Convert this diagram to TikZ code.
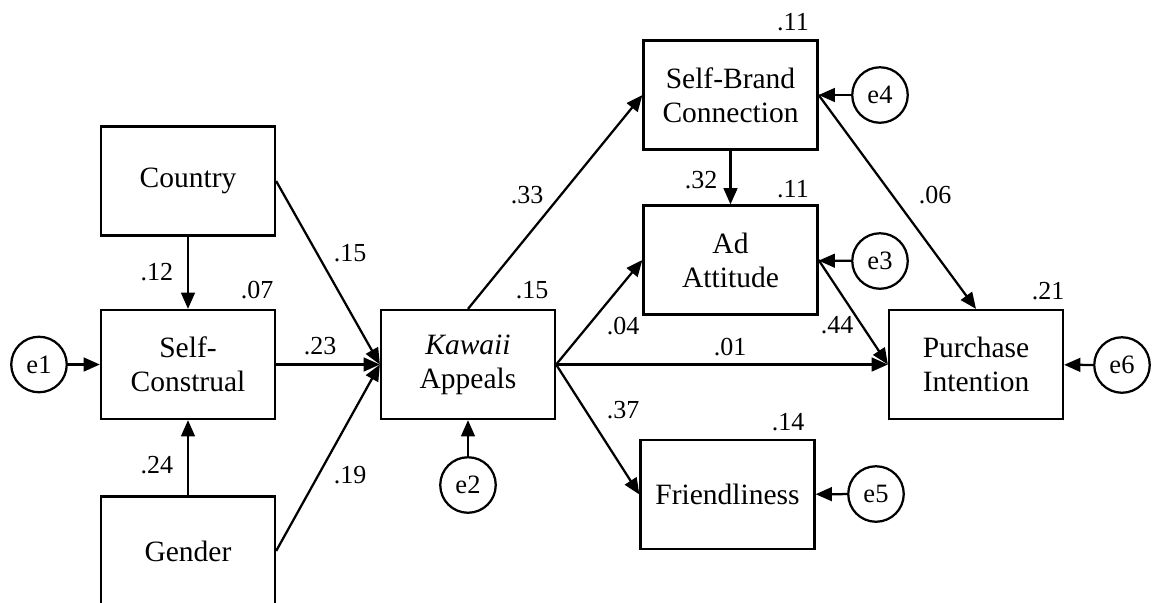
\documentclass[tikz,border=0pt]{standalone}
\usepackage{fontspec}
\setmainfont{Liberation Serif}
\usetikzlibrary{arrows.meta}

\begin{document}
\begin{tikzpicture}[x=0.4pt,y=-0.4pt,
    varbox/.style={draw,line width=0.9pt,minimum width=69.6pt,minimum height=43.6pt,inner sep=0pt,align=center,font=\fontsize{11.8}{13.6}\selectfont},
    errc/.style={draw,circle,line width=0.9pt,minimum size=22.2pt,inner sep=0pt,font=\fontsize{10.6}{12}\selectfont},
    coef/.style={inner sep=0pt,font=\fontsize{10.4}{12}\selectfont},
    conn/.style={line width=0.9pt,-{Triangle[length=6.5pt,width=5.5pt]}}]
      \useasboundingbox (0,0) rectangle (1155,602);
      \clip (0,0) rectangle (1155,602);

      \node[varbox] (country) at (188,181) {Country};
      \node[varbox] (selfc) at (188,364.5) {Self-\\Construal};
      \node[varbox] (gender) at (188,551) {Gender};
      \node[varbox] (kawaii) at (468,364.5) {\textit{Kawaii}\\Appeals};
      \node[varbox] (sbc) at (730.5,95) {Self-Brand\\Connection};
      \node[varbox] (adatt) at (730.5,260) {Ad\\Attitude};
      \node[varbox] (friend) at (727.5,494.5) {Friendliness};
      \node[varbox] (purch) at (976,364.5) {Purchase\\Intention};

      \node[errc] (e1) at (39,364.5) {e1};
      \node[errc] (e2) at (468,485) {e2};
      \node[errc] (e3) at (880,261) {e3};
      \node[errc] (e4) at (880,95) {e4};
      \node[errc] (e5) at (876,494) {e5};
      \node[errc] (e6) at (1122,365) {e6};

      \node[coef] (l12) at (157,272) {.12};
      \node[coef] (l07) at (257,290) {.07};
      \node[coef] (l15a) at (350,253) {.15};
      \node[coef] (l23) at (320,346) {.23};
      \node[coef] (l24) at (157,465) {.24};
      \node[coef] (l19) at (350,475) {.19};
      \node[coef] (l15b) at (532,290) {.15};
      \node[coef] (l33) at (527,195) {.33};
      \node[coef] (l11a) at (793,22) {.11};
      \node[coef] (l32) at (701,180) {.32};
      \node[coef] (l11b) at (793,189) {.11};
      \node[coef] (l04) at (623,326) {.04};
      \node[coef] (l37) at (623,410) {.37};
      \node[coef] (l01) at (730,347) {.01};
      \node[coef] (l44) at (837,325) {.44};
      \node[coef] (l06) at (935,195) {.06};
      \node[coef] (l21) at (1048,291) {.21};
      \node[coef] (l14) at (788,422) {.14};

      \draw[conn] (country.south) -- (selfc.north);
      \draw[conn] (gender.north) -- (selfc.south);
      \draw[conn] (country.east) -- (kawaii.west);
      \draw[conn] (selfc.east) -- (kawaii.west);
      \draw[conn] (gender.east) -- (kawaii.west);
      \draw[conn] (kawaii.north) -- (sbc.west);
      \draw[conn] (kawaii.east) -- (adatt.west);
      \draw[conn] (kawaii.east) -- (purch.west);
      \draw[conn] (kawaii.east) -- (friend.west);
      \draw[conn] (sbc.south) -- (adatt.north);
      \draw[conn] (sbc.east) -- (purch.north);
      \draw[conn] (adatt.east) -- (purch.west);

      \draw[conn] (e1) -- (selfc);
      \draw[conn] (e2) -- (kawaii);
      \draw[conn] (e3) -- (adatt);
      \draw[conn] (e4) -- (sbc);
      \draw[conn] (e5) -- (friend);
      \draw[conn] (e6) -- (purch);
    \end{tikzpicture}
\end{document}
